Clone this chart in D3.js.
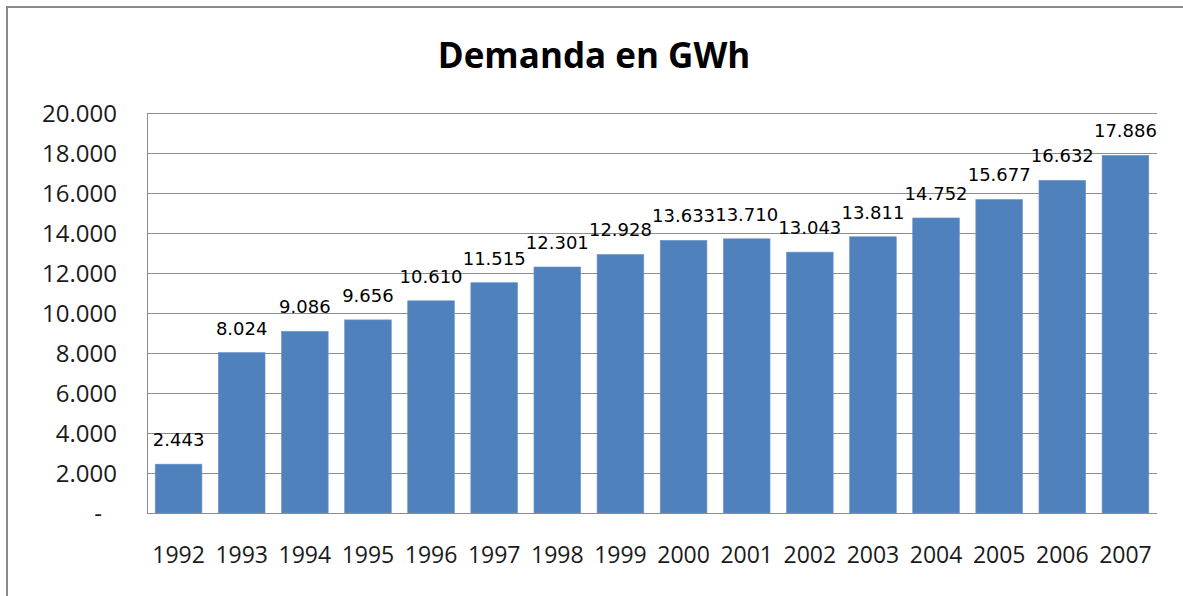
<!DOCTYPE html>
<html><head><meta charset="utf-8">
<script src="https://cdn.jsdelivr.net/npm/d3@7"></script>
<style>html,body{margin:0;padding:0;background:#fff;}svg{display:block;}</style>
</head><body>
<svg id="chart" width="1183" height="596"></svg>
<script>
const years = ["1992","1993","1994","1995","1996","1997","1998","1999","2000","2001","2002","2003","2004","2005","2006","2007"];
const demand = [2443,8024,9086,9656,10610,11515,12301,12928,13633,13710,13043,13811,14752,15677,16632,17886];
const yTicks = [0,2000,4000,6000,8000,10000,12000,14000,16000,18000,20000];
const title = "Demanda en GWh";

const svg = d3.select("#chart");
const W = 1183, H = 596;
const m = {left:147, right:W-1157, top:113, bottom:H-513};
const loc = d3.formatLocale({decimal:",", thousands:".", grouping:[3], currency:["",""]});
const fmt = loc.format(",d");

// chart border (left + top visible)
svg.append("rect").attr("x",7).attr("y",7).attr("width",1300).attr("height",700)
  .attr("fill","none").attr("stroke","#8a8a8a").attr("stroke-width",2);

const x = d3.scaleBand().domain(years).range([m.left, W-m.right]).paddingInner(0.26).paddingOuter(0.13);
const y = d3.scaleLinear().domain([0,20000]).range([H-m.bottom, m.top]);

// gridlines
svg.append("g").selectAll("line").data(yTicks.filter(d=>d>0)).join("line")
  .attr("x1",m.left).attr("x2",W-m.right)
  .attr("y1",d=>Math.round(y(d))+0.5).attr("y2",d=>Math.round(y(d))+0.5)
  .attr("stroke","#8c8c8c").attr("stroke-width",1);

// bars
svg.append("g").selectAll("rect").data(demand).join("rect")
  .attr("x",(d,i)=>x(years[i])).attr("width",x.bandwidth())
  .attr("y",d=>y(d)).attr("height",d=>y(0)-y(d))
  .attr("fill","#4f81bd").attr("stroke","#6f97c9").attr("stroke-width",0.6);

// axes lines
svg.append("line").attr("x1",m.left+0.5).attr("x2",m.left+0.5).attr("y1",m.top).attr("y2",y(0))
  .attr("stroke","#8c8c8c");
svg.append("line").attr("x1",m.left).attr("x2",W-m.right).attr("y1",Math.round(y(0))+0.5).attr("y2",Math.round(y(0))+0.5)
  .attr("stroke","#8c8c8c");

// y tick labels
svg.append("g").selectAll("text").data(yTicks).join("text")
  .attr("x",d=>d===0?102:117).attr("y",d=>y(d)).attr("dy","0.36em")
  .attr("text-anchor","end").attr("font-family","Open Sans").attr("font-size",24).attr("fill","#1a1a1a")
  .text(d=>d===0?"-":fmt(d));

// x labels
svg.append("g").selectAll("text").data(years).join("text")
  .attr("x",d=>x(d)+x.bandwidth()/2).attr("y",555).attr("dy","0.36em")
  .attr("text-anchor","middle").attr("font-family","Open Sans").attr("font-size",23).attr("fill","#1a1a1a")
  .text(d=>d);

// data labels
svg.append("g").selectAll("text").data(demand).join("text")
  .attr("x",(d,i)=>x(years[i])+x.bandwidth()/2).attr("y",d=>y(d)-18)
  .attr("text-anchor","middle").attr("font-family","DejaVu Sans").attr("font-size",18).attr("fill","#000")
  .text(d=>fmt(d));

// title
svg.append("text").attr("x",594).attr("y",68).attr("text-anchor","middle")
  .attr("font-family","Open Sans").attr("font-weight","bold").attr("font-size",35).attr("fill","#000")
  .text(title);
</script>
</body></html>
